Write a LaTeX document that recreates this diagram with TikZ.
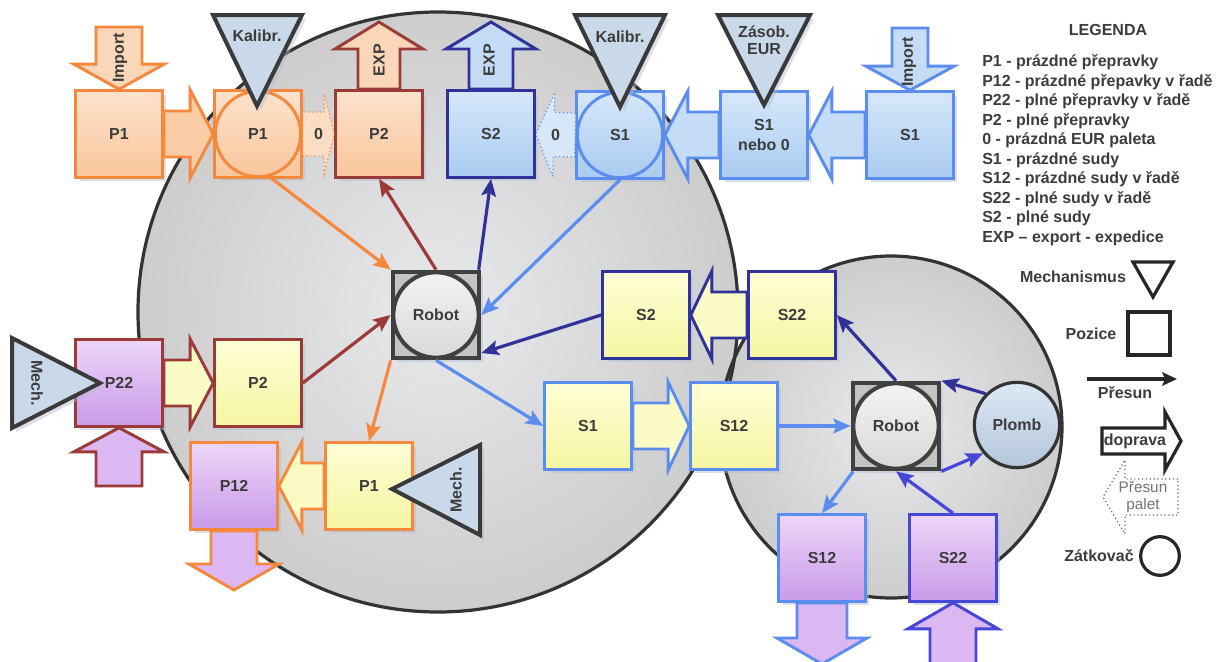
\documentclass[tikz,border=0pt]{standalone}
\usepackage{fontspec}
\setmainfont{Liberation Sans}
\usetikzlibrary{arrows.meta,shadows,calc}
\definecolor{txt}{HTML}{3C3C3C}
\definecolor{orB}{HTML}{F5883C}
\definecolor{redB}{HTML}{9B3A37}
\definecolor{dbB}{HTML}{30329A}
\definecolor{lbB}{HTML}{5B8DEF}
\definecolor{mbB}{HTML}{4646D8}
\definecolor{peachA}{HTML}{FDE2CC}
\definecolor{peachB}{HTML}{F9C69C}
\definecolor{lblA}{HTML}{D6E7FA}
\definecolor{lblB}{HTML}{A9CBF0}
\definecolor{purA}{HTML}{EDD6F8}
\definecolor{purB}{HTML}{C99AE9}
\definecolor{yelA}{HTML}{FEFED6}
\definecolor{yelB}{HTML}{F5F5A2}
\definecolor{trif}{HTML}{C9D9EA}
\definecolor{trib}{HTML}{3A3A3A}
\definecolor{shadowc}{HTML}{AFBCD0}
\definecolor{bigA}{HTML}{E8E9EC}
\definecolor{bigB}{HTML}{CDCDCD}
\definecolor{robF}{HTML}{C4C4C4}
\definecolor{robB}{HTML}{404040}
\definecolor{plA}{HTML}{DCE8F5}
\definecolor{plB}{HTML}{B4C6DA}

\newcommand\fat[6][]{%
  \path (#2) coordinate (fatA) (#3) coordinate (fatB);
  \pgfpointdiff{\pgfpointanchor{fatA}{center}}{\pgfpointanchor{fatB}{center}}%
  \pgfgetlastxy{\fatdx}{\fatdy}%
  \pgfmathsetmacro\fatang{atan2(\fatdy,\fatdx)}%
  \pgfmathsetmacro\fatlen{veclen(\fatdx,\fatdy)/0.75}%
  \pgfmathsetmacro\fatneck{\fatlen-#6}%
  \draw[#1, shift={(fatA)}, rotate=\fatang] (0,#4) -- (\fatneck,#4) -- (\fatneck,#5) -- (\fatlen,0) -- (\fatneck,-#5) -- (\fatneck,-#4) -- (0,-#4) -- cycle;}

\begin{document}
\begin{tikzpicture}[x=0.75pt,y=-0.75pt,
  lbl/.style={font=\bfseries\fontsize{12}{14}\selectfont, text=txt},
  shd/.style={drop shadow={shadow xshift=3pt,shadow yshift=-3pt,fill=shadowc,opacity=0.45}},
  box/.style={lbl, draw, line width=2.2pt, minimum size=65pt, inner sep=0pt, shd},
  ring/.style={lbl, circle, draw, line width=2.2pt, minimum size=64pt, inner sep=0pt},
  peach/.style={top color=peachA, bottom color=peachB},
  lbl f/.style={top color=lblA, bottom color=lblB},
  pur/.style={top color=purA, bottom color=purB},
  yel/.style={top color=yelA, bottom color=yelB},
  fatst/.style={line width=2.2pt, line join=miter},
  dots/.style={line width=0.9pt, dotted, line join=miter},
  con/.style={line width=2.4pt, -{Stealth[length=13pt,width=11pt,inset=2.5pt]}},
  mech/.style={draw=trib, fill=trif, line width=3pt, line join=miter, shd},
  robotbox/.style={draw=robB, fill=robF, line width=3pt, minimum size=65pt, inner sep=0pt, shd},
  robotring/.style={lbl, circle, draw=robB, line width=3pt, minimum size=64pt, inner sep=0pt, top color=white!90!gray, bottom color=gray!30},
  legtxt/.style={anchor=west, inner sep=0pt, font=\bfseries\fontsize{12}{14}\selectfont, text=txt},
  legshape/.style={draw=black!85, line width=2.4pt, fill=white}
]
\useasboundingbox (0,0) rectangle (1232,661);
\fill[white] (0,0) rectangle (1232,661);

% background circles
\shade[inner color=bigA, outer color=bigB] (438,312) circle[radius=300];
\shade[inner color=bigA, outer color=bigB] (891,427) circle[radius=171];
\draw[line width=2.4pt, black!80] (438,312) circle[radius=300];
\draw[line width=2.4pt, black!80] (891,427) circle[radius=171];

% ---------- top row ----------
\node[box, draw=orB, peach] (p1a) at (119,134) {P1};
\node[box, draw=orB, peach] (p1c) at (258,134) {};
\node[ring, draw=orB, peach] (p1cc) at (258,134) {P1};
\node[box, draw=redB, peach] (p2t) at (379,134) {P2};
\node[box, draw=dbB, lbl f] (s2t) at (491,134) {S2};
\node[box, draw=lbB, lbl f] (s1c) at (620,135) {};
\node[ring, draw=lbB, lbl f] (s1cc) at (620,135) {S1};
\node[box, draw=lbB, lbl f, align=center, font=\bfseries\fontsize{12}{15}\selectfont] (s1n) at (764,135) {S1\\nebo 0};
\node[box, draw=lbB, lbl f] (s1r) at (910,135) {S1};

% fat arrows top row
\fat[fatst, draw=orB, fill=peachB!80!peachA]{p1a.east}{p1c.west}{23}{44}{23}
\fat[dots, draw=orB, fill=peachB!60!white]{p1c.east}{p2t.west}{22}{40}{10}
\node[lbl] (zero1) at ($(p1c.east)!0.5!(p2t.west)$) {0};
\fat[dots, draw=lbB, fill=lblA]{s1c.west}{s2t.east}{22}{42}{18}
\node[lbl] (zero2) at ($(s1c.west)!0.5!(s2t.east)$) {0};
\fat[fatst, draw=lbB, fill=lblA!60!lblB]{s1n.west}{s1c.east}{23}{44}{23}
\fat[fatst, draw=lbB, fill=lblA!60!lblB]{s1r.west}{s1n.east}{23}{44}{23}

\coordinate (imp1) at (119,27);
\fat[fatst, draw=orB, fill=peachA!60!peachB]{imp1}{p1a.north}{23}{45}{25}
\node[lbl, rotate=90] (imp1t) at (120,58) {Import};
\coordinate (exp1) at (379,22);
\fat[fatst, draw=redB, fill=peachA!60!peachB]{p2t.north}{exp1}{21}{44}{27}
\node[lbl, rotate=90] (exp1t) at (379,60) {EXP};
\coordinate (exp2) at (491,22);
\fat[fatst, draw=dbB, fill=lblA!60!lblB]{s2t.north}{exp2}{22}{45}{27}
\node[lbl, rotate=90] (exp2t) at (489,60) {EXP};
\coordinate (imp2) at (910,28);
\fat[fatst, draw=lbB, fill=lblA!60!lblB]{imp2}{s1r.north}{18}{44}{24}
\node[lbl, rotate=90] (imp2t) at (909,62) {Import};

% triangles top
\draw[mech] (213,15) -- (302,15) -- (257,106) -- cycle;
\node[lbl] (kal1) at (257,36) {Kalibr.};
\draw[mech] (575,15) -- (665,15) -- (620,107) -- cycle;
\node[lbl] (kal2) at (620,37) {Kalibr.};
\draw[mech] (718,15) -- (810,15) -- (764,105) -- cycle;
\node[lbl, align=center, font=\bfseries\fontsize{12}{13}\selectfont] (zas) at (764,40) {Zásob.\\EUR};

% ---------- left middle ----------
\node[box, draw=redB, pur] (p22) at (119,383) {P22};
\node[box, draw=redB, yel] (p2y) at (258,383) {P2};
\node[box, draw=orB, pur] (p12) at (234,486) {P12};
\node[box, draw=orB, yel] (p1y) at (369,486) {P1};
\fat[fatst, draw=redB, fill=yelA!70!yelB]{p22.east}{p2y.west}{23}{44}{23}
\fat[fatst, draw=orB, fill=yelA!70!yelB]{p1y.west}{p12.east}{23}{44}{23}
\coordinate (p22in) at (119,486);
\fat[fatst, draw=redB, fill=purA!50!purB]{p22in}{p22.south}{23}{45}{24}
\coordinate (p12out) at (234,590);
\fat[fatst, draw=orB, fill=purA!50!purB]{p12.south}{p12out}{23}{45}{26}
\draw[mech] (12,338) -- (12,428) -- (100,383) -- cycle;
\node[lbl, rotate=-90] (mech1) at (37,383) {Mech.};
\draw[mech] (392,489) -- (480,445) -- (480,535) -- cycle;
\node[lbl, rotate=90] (mech2) at (456,490) {Mech.};

% robot
\node[robotbox] (robot) at (436,315) {};
\node[robotring] (robotc) at (436,315) {Robot};

% ---------- right middle ----------
\node[box, draw=dbB, yel] (s2y) at (646,315) {S2};
\node[box, draw=dbB, yel] (s22y) at (792,315) {S22};
\node[box, draw=lbB, yel] (s1y) at (588,426) {S1};
\node[box, draw=lbB, yel] (s12y) at (734,426) {S12};
\fat[fatst, draw=dbB, fill=yelA!70!yelB]{s22y.west}{s2y.east}{23}{44}{21}
\fat[fatst, draw=lbB, fill=yelA!70!yelB]{s1y.east}{s12y.west}{23}{44}{21}

\node[robotbox] (robot2) at (896,426) {};
\node[robotring] (robot2c) at (896,426) {Robot};
\node[lbl, circle, draw=black!80, line width=2.4pt, minimum size=64pt, inner sep=0pt, top color=plA, bottom color=plB] (plomb) at (1017,425) {Plomb};

\node[box, draw=lbB, pur] (s12p) at (822,558) {S12};
\node[box, draw=mbB, pur] (s22p) at (953,558) {S22};
\coordinate (s12out) at (822,664);
\fat[fatst, draw=lbB, fill=purA!50!purB]{s12p.south}{s12out}{25}{45}{26}
\coordinate (s22in) at (953,664);
\fat[fatst, draw=mbB, fill=purA!50!purB]{s22in}{s22p.south}{23}{45}{26}

% ---------- connectors ----------
\draw[con, orB] (p1cc.-75) -- (robot.north west);
\draw[con, redB] (robot.north) -- (p2t.south);
\draw[con, dbB] ([xshift=-2pt]robot.north east) -- (s2t.south);
\draw[con, lbB] (s1c.south) -- (robot.east);
\draw[con, dbB] (s2y.west) -- (robot.-40);
\draw[con, redB] (p2y.east) -- (robot.west);
\draw[con, orB] (robot.south west) -- (p1y.north);
\draw[con, lbB] (robot.south) -- (s1y.west);
\draw[con, lbB] (s12y.east) -- (robot2.west);
\draw[con, dbB] (robot2.north) -- (s22y.east);
\draw[con, dbB] (plomb.135) -- (robot2.north east);
\draw[con, mbB] (robot2.south east) -- (plomb.-140);
\draw[con, lbB] ([xshift=2pt]robot2.south west) -- (s12p.north);
\draw[con, mbB] (s22p.north) -- (robot2.south);

% ---------- legend ----------
\node[lbl] (legtitle) at (1108,30) {LEGENDA};
\foreach \t [count=\i] in {P1 - prázdné přepravky, P12 - prázdné přepavky v řadě, P22 - plné přepravky v řadě, P2 - plné přepravky, 0 - prázdná EUR paleta, S1 - prázdné sudy, S12 - prázdné sudy v řadě, S22 - plné sudy v řadě, S2 - plné sudy, EXP – export - expedice}
  \node[legtxt] (leg\i) at (982,{43+19.5*\i}) {\t};

\node[lbl] (legmech) at (1073,277) {Mechanismus};
\draw[legshape] (1133,262) -- (1173,262) -- (1153,297) -- cycle;
\node[lbl] (legpoz) at (1091,334) {Pozice};
\draw[legshape] (1128,312) rectangle (1170,355);
\coordinate (lp1) at (1087,379);
\coordinate (lp2) at (1177,379);
\draw[line width=2.4pt, black!85, -{Stealth[length=11pt,width=10pt,inset=2pt]}] (lp1) -- (lp2);
\node[lbl] (legpres) at (1125,393) {Přesun};
\coordinate (ld1) at (1102,441);
\coordinate (ld2) at (1181,441);
\fat[line width=2.4pt, draw=black!85, fill=white, line join=miter]{ld1}{ld2}{13}{29}{16}
\node[lbl] (legdop) at (1135,441) {doprava};
\coordinate (lpp1) at (1178,497);
\coordinate (lpp2) at (1103,497);
\fat[line width=0.9pt, dotted, draw=black!60, fill=white]{lpp1}{lpp2}{18}{37}{22}
\node[align=center, text=black!55, font=\fontsize{11.5}{13}\selectfont] (legpal) at (1143,497) {Přesun\\palet};
\node[lbl] (legzat) at (1099,556) {Zátkovač};
\node[circle, draw=black!85, line width=2.4pt, minimum size=29pt, inner sep=0pt] (legcirc) at (1160,556) {};
\end{tikzpicture}
\end{document}
